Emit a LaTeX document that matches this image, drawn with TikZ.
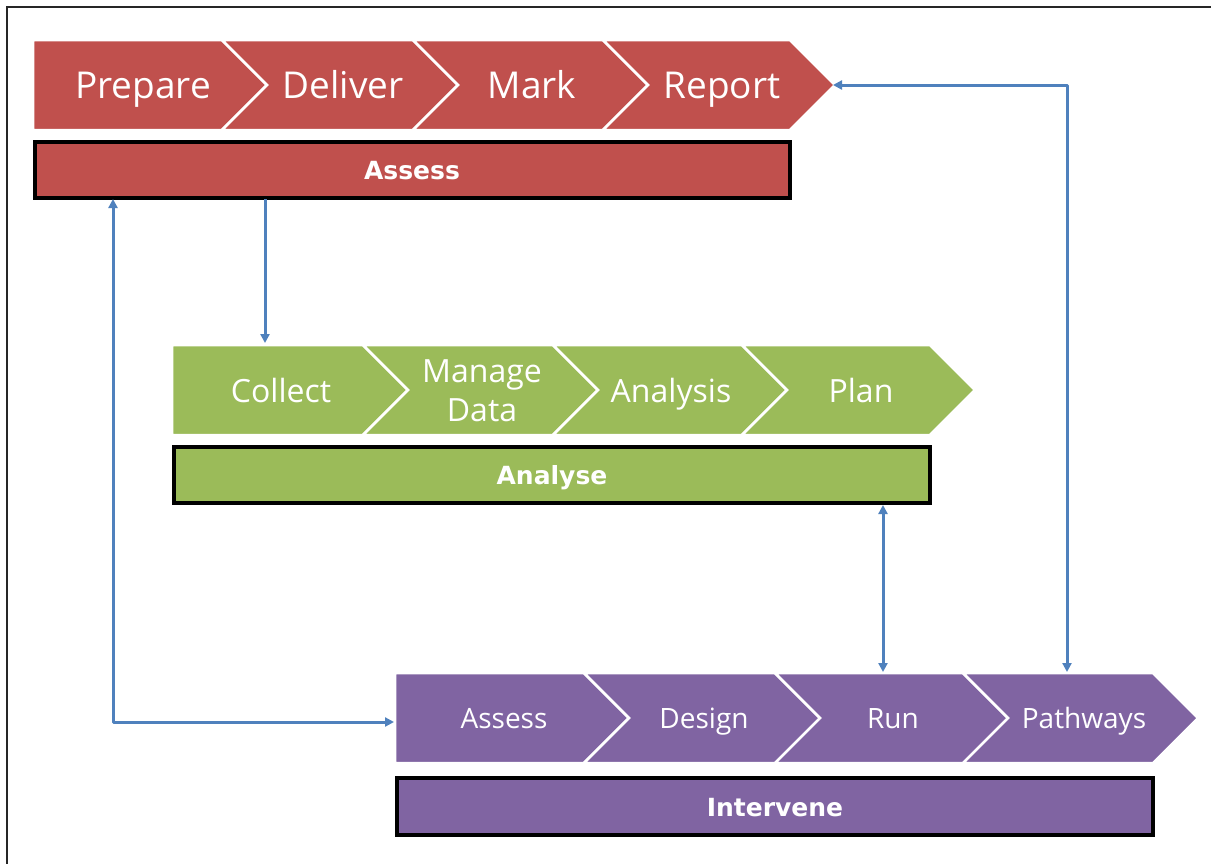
\documentclass[tikz,border=0pt]{standalone}
\usepackage{fontspec}
\setmainfont{Open Sans}
\newfontfamily\barfont{DejaVu Sans}
\usetikzlibrary{arrows.meta}
\definecolor{cred}{HTML}{C0504D}
\definecolor{cgreen}{HTML}{9BBB59}
\definecolor{cpurple}{HTML}{8064A2}
\definecolor{cblue}{HTML}{4F81BD}
\begin{document}
\begin{tikzpicture}[x=1pt,y=-1pt,
  chev/.style={fill=#1, draw=white, line width=2.5pt, line join=miter},
  bar/.style={fill=#1, draw=black, line width=3.5pt},
  redtxt/.style={text=white, anchor=base, font=\fontsize{37}{44}\selectfont, inner sep=0pt},
  greentxt/.style={text=white, anchor=base, font=\fontsize{32}{39}\selectfont, inner sep=0pt, align=center},
  purtxt/.style={text=white, anchor=base, font=\fontsize{28}{34}\selectfont, inner sep=0pt},
  bartxt/.style={text=white, anchor=base, font=\barfont\bfseries\fontsize{25}{28}\selectfont, inner sep=0pt},
  conn/.style={draw=cblue, line width=3pt, line join=round},
  tip/.tip={Triangle[length=9pt,width=9pt]}
]
\useasboundingbox (0,0) rectangle (1211,863);
\clip (0,0) rectangle (1211,863);
\fill[white] (0,0) rectangle (1211,863);
\draw[line width=2pt, black!85] (7,7) rectangle (1240,900);

% red row
\path[chev=cred] (33,40) -- (222,40) -- (267,85) -- (222,130) -- (33,130) -- cycle;
\path[chev=cred] (222,40) -- (413,40) -- (458,85) -- (413,130) -- (222,130) -- (267,85) -- cycle;
\path[chev=cred] (413,40) -- (603,40) -- (648,85) -- (603,130) -- (413,130) -- (458,85) -- cycle;
\path[chev=cred] (603,40) -- (790,40) -- (835,85) -- (790,130) -- (603,130) -- (648,85) -- cycle;
\node[redtxt] (prepare) at (143,98) {Prepare};
\node[redtxt] (deliver) at (343,98) {Deliver};
\node[redtxt] (mark) at (532,98) {Mark};
\node[redtxt] (report) at (722,98) {Report};
\path[bar=cred] (35,142) rectangle (790,198);
\node[bartxt] (assessbar) at (412,179) {Assess};

% green row
\path[chev=cgreen] (172,345) -- (363,345) -- (408,390) -- (363,435) -- (172,435) -- cycle;
\path[chev=cgreen] (363,345) -- (553,345) -- (598,390) -- (553,435) -- (363,435) -- (408,390) -- cycle;
\path[chev=cgreen] (553,345) -- (742,345) -- (787,390) -- (742,435) -- (553,435) -- (598,390) -- cycle;
\path[chev=cgreen] (742,345) -- (930,345) -- (975,390) -- (930,435) -- (742,435) -- (787,390) -- cycle;
\node[greentxt] (collect) at (281,402) {Collect};
\node[greentxt] (manage) at (482,382) {Manage};
\node[greentxt] (data) at (482,421) {Data};
\node[greentxt] (analysis) at (671,402) {Analysis};
\node[greentxt] (plan) at (861,402) {Plan};
\path[bar=cgreen] (174,447) rectangle (930,503);
\node[bartxt] (analysebar) at (552,484) {Analyse};

% purple row
\path[chev=cpurple] (395,673) -- (584,673) -- (629,718) -- (584,763) -- (395,763) -- cycle;
\path[chev=cpurple] (584,673) -- (775,673) -- (820,718) -- (775,763) -- (584,763) -- (629,718) -- cycle;
\path[chev=cpurple] (775,673) -- (963,673) -- (1008,718) -- (963,763) -- (775,763) -- (820,718) -- cycle;
\path[chev=cpurple] (963,673) -- (1153,673) -- (1198,718) -- (1153,763) -- (963,763) -- (1008,718) -- cycle;
\node[purtxt] (assessp) at (504,728) {Assess};
\node[purtxt] (design) at (704,728) {Design};
\node[purtxt] (run) at (893,728) {Run};
\node[purtxt] (pathways) at (1084,728) {Pathways};
\path[bar=cpurple] (397,778) rectangle (1153,835);
\node[bartxt] (intervenebar) at (775,816) {Intervene};

% connector end points
\coordinate (a1s) at (265,199);
\coordinate (a1e) at (265,343);
\coordinate (reporttip) at (833,85);
\coordinate (rcorner) at (1067,85);
\coordinate (pathtop) at (1067,672);
\coordinate (anbottom) at (883,505);
\coordinate (runtop) at (883,672);
\coordinate (asbottom) at (113,199);
\coordinate (lcorner) at (113,722);
\coordinate (purleft) at (394,722);

\draw[conn, -tip] (a1s) -- (a1e);
\draw[conn, tip-tip] (reporttip) -- (rcorner) -- (pathtop);
\draw[conn, tip-tip] (anbottom) -- (runtop);
\draw[conn, tip-tip] (asbottom) -- (lcorner) -- (purleft);
\end{tikzpicture}
\end{document}
